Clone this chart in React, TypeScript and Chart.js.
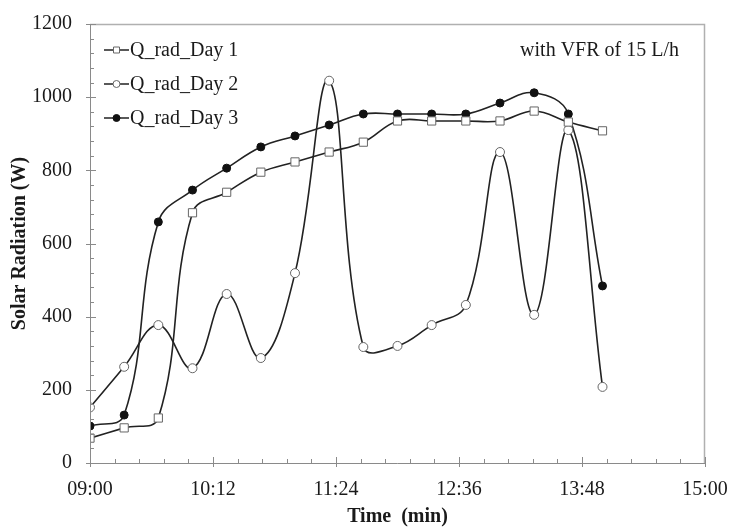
import React, { useEffect, useRef } from "react";
import { Chart, registerables } from "chart.js";

Chart.register(...registerables);

const times = ["09:00", "09:20", "09:40", "10:00", "10:20", "10:40", "11:00", "11:20", "11:40", "12:00", "12:20", "12:40", "13:00", "13:20", "13:40", "14:00"];
const day1 = [68, 96, 123, 684, 740, 795, 823, 850, 877, 935, 935, 935, 935, 962, 932, 908];
const day2 = [152, 263, 377, 259, 462, 287, 519, 1045, 317, 320, 377, 432, 850, 405, 910, 208];
const day3 = [101, 131, 659, 746, 806, 864, 894, 924, 954, 954, 954, 954, 984, 1012, 954, 484];
const seriesNames = ["Q_rad_Day 1", "Q_rad_Day 2", "Q_rad_Day 3"];
const xTickLabels = ["09:00", "10:12", "11:24", "12:36", "13:48", "15:00"];
const yTicks = [0, 200, 400, 600, 800, 1000, 1200];
const annotationText = "with VFR of 15 L/h";
const xTitle = "Time  (min)";
const yTitle = "Solar Radiation (W)";

const toMin = (s: string) => {
  const [h, m] = s.split(":").map(Number);
  return h * 60 + m;
};
const fmt = (v: number) => {
  const h = Math.floor(v / 60);
  const m = Math.round(v - h * 60);
  return String(h).padStart(2, "0") + ":" + String(m).padStart(2, "0");
};

const FONT = "'Liberation Serif', 'Times New Roman', serif";
const LINE = "#222";

export default function App() {
  const ref = useRef<HTMLCanvasElement>(null);
  useEffect(() => {
    const xs = times.map(toMin);
    const xMin = toMin(xTickLabels[0]);
    const xMax = toMin(xTickLabels[xTickLabels.length - 1]);
    const xStep = toMin(xTickLabels[1]) - xMin;
    const mk = (vals: number[]) => vals.map((y, i) => ({ x: xs[i], y }));
    const styles = [
      { pointStyle: "rect", bg: "#ffffff", bc: "#666", r: 5.8 },
      { pointStyle: "circle", bg: "#ffffff", bc: "#666", r: 4.5 },
      { pointStyle: "circle", bg: "#111", bc: "#111", r: 4 },
    ];
    const data = [day1, day2, day3];

    const deco = {
      id: "deco",
      afterDraw(chart: any) {
        const { ctx, chartArea: a, scales } = chart;
        const xS = scales.x, yS = scales.y;
        ctx.save();
        // frame
        ctx.strokeStyle = "#b0b0b0";
        ctx.lineWidth = 1.5;
        ctx.beginPath();
        ctx.moveTo(a.left, a.top + 0.5);
        ctx.lineTo(a.right - 0.5, a.top + 0.5);
        ctx.lineTo(a.right - 0.5, a.bottom);
        ctx.stroke();
        ctx.strokeStyle = "#8a8a8a";
        ctx.lineWidth = 1;
        ctx.beginPath();
        ctx.moveTo(a.left + 0.5, a.top);
        ctx.lineTo(a.left + 0.5, a.bottom + 0.5);
        ctx.lineTo(a.right, a.bottom + 0.5);
        ctx.stroke();
        // x ticks
        ctx.strokeStyle = "#8a8a8a";
        ctx.beginPath();
        for (let i = 0; i <= 25; i++) {
          const v = xMin + (xStep / 5) * i;
          const px = Math.round(xS.getPixelForValue(v)) + 0.5;
          const major = i % 5 === 0;
          ctx.moveTo(px, a.bottom - (major ? 6 : 4));
          ctx.lineTo(px, a.bottom + (major ? 4 : 0));
        }
        // y ticks
        for (let i = 0; i <= 30; i++) {
          const v = (200 / 5) * i;
          const py = Math.round(yS.getPixelForValue(v)) + 0.5;
          const major = i % 5 === 0;
          ctx.moveTo(a.left - (major ? 4 : 0), py);
          ctx.lineTo(a.left + (major ? 6 : 4), py);
        }
        ctx.stroke();
        // legend
        ctx.font = `20px ${FONT}`;
        ctx.textBaseline = "middle";
        ctx.fillStyle = "#1a1a1a";
        seriesNames.forEach((name, i) => {
          const cy = 50 + i * 34;
          ctx.strokeStyle = LINE;
          ctx.lineWidth = 1.5;
          ctx.beginPath();
          ctx.moveTo(104, cy);
          ctx.lineTo(129, cy);
          ctx.stroke();
          const s = styles[i];
          ctx.fillStyle = s.bg;
          ctx.strokeStyle = s.bc;
          ctx.lineWidth = 1;
          ctx.beginPath();
          if (s.pointStyle === "rect") ctx.rect(113.5, cy - 3, 6, 6);
          else ctx.arc(116.5, cy, 3.5, 0, Math.PI * 2);
          ctx.fill();
          ctx.stroke();
          ctx.fillStyle = "#1a1a1a";
          ctx.textAlign = "left";
          ctx.fillText(name, 130, cy + 1);
        });
        // annotation
        ctx.textAlign = "right";
        ctx.fillText(annotationText, 679, 51);
        // titles
        ctx.font = `bold 20px ${FONT}`;
        ctx.textAlign = "center";
        ctx.fillText(xTitle, (a.left + a.right) / 2, 517);
        ctx.translate(20, (a.top + a.bottom) / 2);
        ctx.rotate(-Math.PI / 2);
        ctx.fillText(yTitle, 0, 0);
        ctx.restore();
      },
    };

    const chart = new Chart(ref.current!, {
      type: "line",
      data: {
        datasets: data.map((vals, i) => ({
          label: seriesNames[i],
          data: mk(vals),
          borderColor: LINE,
          borderWidth: 1.6,
          tension: 0.4,
          pointStyle: styles[i].pointStyle as any,
          pointRadius: styles[i].r,
          pointBackgroundColor: styles[i].bg,
          pointBorderColor: styles[i].bc,
          pointBorderWidth: 1,
          fill: false,
        })),
      },
      options: {
        responsive: false,
        animation: false,
        layout: { padding: { top: 24, right: 27, left: 0, bottom: 0 } },
        plugins: { legend: { display: false }, tooltip: { enabled: false } },
        scales: {
          x: {
            type: "linear",
            min: xMin,
            max: xMax,
            afterFit: (s: any) => { s.height = 66; s.paddingLeft = 0; s.paddingRight = 0; },
            afterBuildTicks: (s: any) => {
              s.ticks = xTickLabels.map((t) => ({ value: toMin(t) }));
            },
            ticks: {
              stepSize: xStep,
              padding: 15,
              color: "#1a1a1a",
              font: { family: FONT, size: 20 },
              maxRotation: 0,
              callback: (v: any) => fmt(Number(v)),
            },
            grid: { display: false, drawTicks: false },
            border: { display: false },
          },
          y: {
            min: 0,
            max: 1200,
            afterFit: (s: any) => { s.width = 90; s.paddingTop = 0; s.paddingBottom = 0; },
            afterBuildTicks: (s: any) => {
              s.ticks = yTicks.map((v) => ({ value: v }));
            },
            ticks: {
              stepSize: 200,
              padding: 18,
              color: "#1a1a1a",
              font: { family: FONT, size: 20 },
              callback: (v: any) => String(v),
            },
            grid: { display: false, drawTicks: false },
            border: { display: false },
          },
        },
      },
      plugins: [deco],
    });
    return () => chart.destroy();
  }, []);
  return (
    <div style={{ position: "absolute", left: 0, top: 0, width: 732, height: 529, background: "#fff" }}>
      <canvas ref={ref} width={732} height={529} />
    </div>
  );
}
